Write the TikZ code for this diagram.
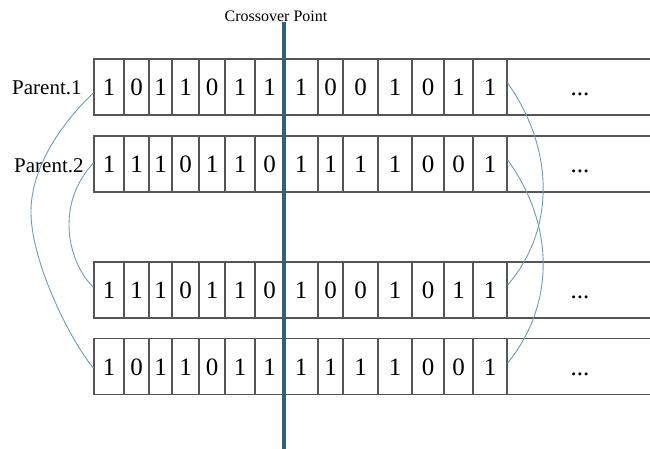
\documentclass[tikz,border=0pt]{standalone}
\usepackage{fontspec}
\setmainfont{Liberation Serif}
\usetikzlibrary{calc}
\definecolor{boxline}{HTML}{555555}
\definecolor{crossc}{HTML}{2D6378}
\definecolor{curvec}{HTML}{6F9DB2}
\tikzset{
  cell/.style={draw=boxline, line width=1.3pt, fill=white, inner sep=0pt,
    minimum height=56pt, text height=17pt, text depth=0pt,
    font=\fontsize{25}{28}\selectfont},
  swapline/.style={draw=curvec, line width=0.9pt},
  crossline/.style={draw=crossc, line width=4pt},
  parentlabel/.style={anchor=west, inner sep=0pt, font=\fontsize{21}{24}\selectfont},
  crosslabel/.style={inner sep=0pt, font=\fontsize{16}{18}\selectfont}
}
\newcommand\bitrow[3]{%
  \foreach \d [count=\i] in {#3} {
    \pgfmathsetmacro\xa{{94,124,149,172,199,225,255,284,318,343,378,412,444,473,507}[\i-1]}
    \pgfmathsetmacro\xb{{94,124,149,172,199,225,255,284,318,343,378,412,444,473,507}[\i]}
    \pgfmathsetmacro\xc{(\xa+\xb)/2}
    \pgfmathsetmacro\w{\xb-\xa}
    \node[cell, minimum width=\w pt] (#1c\i) at (\xc,#2) {\d};
  }
  \node[cell, minimum width=146pt] (#1c15) at (580,#2) {...};
}
\begin{document}
\begin{tikzpicture}[x=1pt,y=-1pt]
\useasboundingbox (0,0) rectangle (650,449);
\clip (0,0) rectangle (650,449);
\bitrow{r1}{87}{1,0,1,1,0,1,1,1,0,0,1,0,1,1}
\bitrow{r2}{164}{1,1,1,0,1,1,0,1,1,1,1,0,0,1}
\bitrow{r3}{290}{1,1,1,0,1,1,0,1,0,0,1,0,1,1}
\bitrow{r4}{366.5}{1,0,1,1,0,1,1,1,1,1,1,0,0,1}
\node[parentlabel] (p1) at (12,88) {Parent.1};
\node[parentlabel] (p2) at (14,166) {Parent.2};
\node[crosslabel] (cl) at (276,16) {Crossover Point};
\coordinate (ct) at (284,22);
\coordinate (cb) at (284,455);
\draw[crossline] (ct) -- (cb);
\draw[swapline] ($(r1c1.west)+(0,6)$) .. controls (70,115) and (32,160) .. (31,210)
  .. controls (30,260) and (70,340) .. ($(r4c1.west)+(0,1.5)$);
\draw[swapline] ($(r2c1.west)+(0,-1)$) .. controls (78,180) and (69,200) .. (69,225)
  .. controls (69,250) and (80,275) .. ($(r3c1.west)+(0,-3)$);
\draw[swapline] ($(r1c14.east)+(0,-4)$) .. controls (555,150) and (555,230) .. ($(r3c14.east)+(0,-5)$);
\draw[swapline] ($(r2c14.east)+(0,-4)$) .. controls (555,225) and (555,305) .. ($(r4c14.east)+(0,-3.5)$);
\end{tikzpicture}
\end{document}
